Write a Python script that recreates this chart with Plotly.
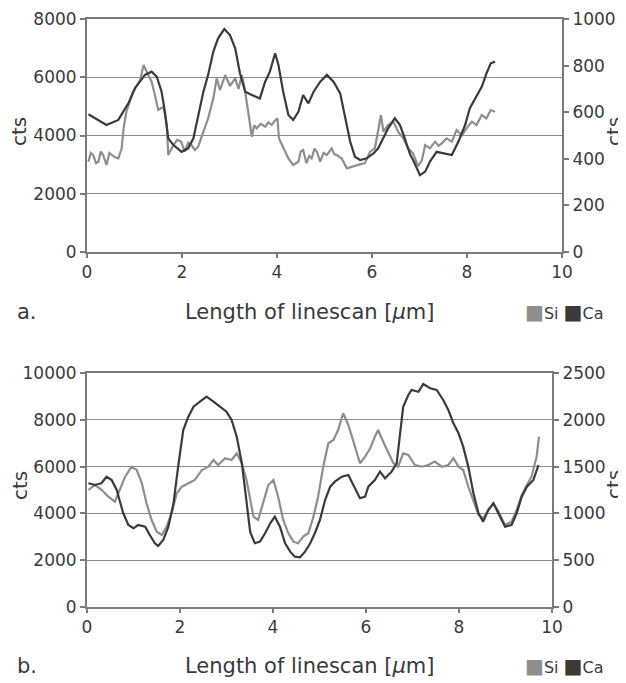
import plotly.graph_objects as go

# ---------------- data: chart a ----------------
a_si_x = [0.03, 0.08, 0.13, 0.19, 0.24, 0.29, 0.34, 0.38, 0.41, 0.47, 0.52, 0.59, 0.66, 0.73, 0.77, 0.83,
          0.97, 1.12, 1.19, 1.26, 1.36, 1.43, 1.50, 1.61, 1.68, 1.71, 1.82, 1.90, 1.98, 2.06, 2.13, 2.20,
          2.27, 2.34, 2.45, 2.55, 2.66, 2.73, 2.80, 2.91, 3.01, 3.12, 3.19, 3.26, 3.33, 3.40, 3.47, 3.52,
          3.57, 3.66, 3.75, 3.82, 3.89, 3.95, 4.01, 4.04, 4.13, 4.24, 4.34, 4.45, 4.50, 4.55, 4.62, 4.68,
          4.73, 4.79, 4.84, 4.91, 4.98, 5.05, 5.15, 5.21, 5.26, 5.36, 5.47, 5.57, 5.71, 5.85, 5.96, 6.06,
          6.13, 6.19, 6.24, 6.34, 6.45, 6.55, 6.66, 6.76, 6.86, 6.97, 7.05, 7.12, 7.22, 7.33, 7.40, 7.47,
          7.57, 7.68, 7.78, 7.89, 7.99, 8.10, 8.20, 8.31, 8.41, 8.50, 8.59]
a_si_y = [3100, 3400, 3330, 3050, 3100, 3450, 3330, 3150, 2990, 3400, 3330, 3250, 3215, 3560, 4246, 4817,
          5503, 5905, 6420, 6190, 5847, 5390, 4875, 4988, 4360, 3330, 3673, 3850, 3788, 3443, 3750, 3673,
          3500, 3615, 4130, 4589, 5275, 5962, 5560, 6077, 5700, 5962, 5600, 6077, 5503, 4703, 3958, 4350,
          4246, 4400, 4300, 4450, 4360, 4500, 4589, 3903, 3615, 3215, 2990, 3100, 3450, 3502, 3050, 3300,
          3215, 3550, 3443, 3100, 3400, 3330, 3560, 3350, 3330, 3215, 2873, 2930, 2990, 3050, 3443, 3560,
          4246, 4703, 4130, 4360, 4473, 4130, 3903, 3550, 3400, 2950, 3150, 3673, 3560, 3788, 3650, 3730,
          3903, 3788, 4190, 4000, 4246, 4473, 4360, 4703, 4589, 4875, 4817]

a_ca_x = [0.03, 0.31, 0.41, 0.66, 0.87, 1.01, 1.22, 1.36, 1.47, 1.57, 1.64, 1.71, 1.82, 1.99, 2.13, 2.24,
          2.34, 2.45, 2.55, 2.66, 2.76, 2.89, 3.01, 3.12, 3.22, 3.33, 3.47, 3.64, 3.75, 3.85, 3.96, 4.03,
          4.13, 4.24, 4.34, 4.45, 4.55, 4.66, 4.77, 4.91, 5.05, 5.19, 5.33, 5.43, 5.54, 5.64, 5.75, 5.89,
          6.03, 6.13, 6.24, 6.34, 6.48, 6.59, 6.69, 6.80, 6.88, 7.01, 7.12, 7.22, 7.36, 7.50, 7.68, 7.82,
          7.96, 8.06, 8.17, 8.31, 8.41, 8.50, 8.59]
a_ca_y = [591, 559, 545, 567, 638, 703, 760, 774, 752, 688, 602, 488, 459, 430, 445, 488,
          588, 688, 760, 860, 917, 957, 931, 874, 767, 688, 674, 659, 731, 774, 853, 803,
          688, 588, 567, 602, 674, 638, 688, 731, 760, 731, 681, 588, 474, 409, 395, 402,
          423, 445, 488, 531, 574, 545, 488, 420, 388, 330, 345, 388, 430, 423, 416, 474,
          545, 617, 659, 709, 767, 810, 817]

# ---------------- data: chart b ----------------
b_si_x = [0.03, 0.17, 0.32, 0.46, 0.60, 0.71, 0.82, 0.96, 1.07, 1.18, 1.28, 1.39, 1.50, 1.61, 1.71, 1.82,
          1.93, 2.04, 2.18, 2.32, 2.47, 2.61, 2.72, 2.82, 2.97, 3.11, 3.22, 3.33, 3.43, 3.51, 3.58, 3.68,
          3.79, 3.90, 4.01, 4.11, 4.22, 4.33, 4.44, 4.54, 4.65, 4.76, 4.87, 4.97, 5.08, 5.19, 5.30, 5.40,
          5.51, 5.62, 5.73, 5.87, 5.98, 6.09, 6.19, 6.26, 6.37, 6.48, 6.59, 6.69, 6.80, 6.91, 7.05, 7.20,
          7.34, 7.48, 7.63, 7.77, 7.88, 7.99, 8.09, 8.20, 8.31, 8.42, 8.52, 8.63, 8.74, 8.85, 8.99, 9.13,
          9.24, 9.35, 9.46, 9.56, 9.67, 9.72]
b_si_y = [5000, 5214, 5000, 4714, 4500, 5000, 5569, 5996, 5855, 5287, 4432, 3718, 3218, 3077, 3432, 4005,
          4860, 5142, 5287, 5428, 5855, 5996, 6284, 6069, 6355, 6284, 6569, 6142, 5428, 4573, 3860, 3718,
          4432, 5214, 5428, 4714, 3718, 3150, 2791, 2722, 3005, 3150, 3860, 4714, 5996, 6996, 7140, 7565,
          8279, 7779, 7065, 6142, 6426, 6783, 7279, 7565, 7065, 6569, 6142, 5996, 6569, 6497, 6069, 5996,
          6069, 6212, 5996, 6069, 6355, 5996, 5855, 5142, 4573, 3930, 3790, 4146, 4432, 4075, 3505, 3646,
          4146, 4786, 5214, 5569, 6426, 7279]

b_ca_x = [0.03, 0.17, 0.31, 0.42, 0.53, 0.64, 0.71, 0.78, 0.89, 1.00, 1.10, 1.25, 1.35, 1.46, 1.53, 1.64,
          1.75, 1.86, 1.96, 2.07, 2.18, 2.29, 2.43, 2.57, 2.72, 2.86, 3.00, 3.11, 3.22, 3.33, 3.43, 3.51,
          3.61, 3.72, 3.83, 3.94, 4.04, 4.15, 4.26, 4.37, 4.47, 4.58, 4.69, 4.80, 4.90, 5.01, 5.12, 5.23,
          5.33, 5.48, 5.62, 5.73, 5.87, 5.98, 6.05, 6.19, 6.30, 6.41, 6.55, 6.66, 6.73, 6.80, 6.91, 6.98,
          7.13, 7.23, 7.38, 7.52, 7.66, 7.77, 7.88, 7.99, 8.09, 8.20, 8.31, 8.42, 8.52, 8.63, 8.74, 8.85,
          8.99, 9.13, 9.24, 9.35, 9.46, 9.60, 9.71]
b_ca_y = [1322, 1304, 1322, 1392, 1357, 1250, 1125, 1001, 876, 841, 876, 858, 769, 681, 652, 716,
          858, 1108, 1499, 1891, 2033, 2140, 2194, 2247, 2194, 2140, 2087, 1998, 1820, 1536, 1143, 800,
          681, 698, 788, 894, 965, 858, 681, 591, 538, 531, 591, 681, 788, 930, 1143, 1286,
          1339, 1392, 1411, 1304, 1162, 1179, 1286, 1357, 1446, 1375, 1446, 1536, 1820, 2140, 2265, 2319,
          2300, 2383, 2337, 2319, 2212, 2105, 1963, 1856, 1713, 1499, 1215, 1001, 912, 1037, 1108, 1001,
          858, 876, 1001, 1179, 1286, 1357, 1517]

# ---------------- styles ----------------
OFF = 8  # default body margin of the page
W, H = 626 - OFF, 683 - OFF
SI_COLOR = "#8e8e8e"
CA_COLOR = "#3a3a3a"
TXT = "#3a3a3a"
AXC = "#7a7a7a"
GRID = "#8a8a8a"
FONT = "DejaVu Sans"
LW = 2.2


def px(x):
    return (x - OFF) / W


def py(y):
    return 1 - (y - OFF) / H


fig = go.Figure()
fig.add_trace(go.Scatter(x=a_si_x, y=a_si_y, mode="lines", line=dict(color=SI_COLOR, width=LW),
                         xaxis="x", yaxis="y", name="Si", showlegend=False))
fig.add_trace(go.Scatter(x=a_ca_x, y=a_ca_y, mode="lines", line=dict(color=CA_COLOR, width=LW),
                         xaxis="x", yaxis="y2", name="Ca", showlegend=False))
fig.add_trace(go.Scatter(x=b_si_x, y=b_si_y, mode="lines", line=dict(color=SI_COLOR, width=LW),
                         xaxis="x2", yaxis="y3", name="Si", showlegend=False))
fig.add_trace(go.Scatter(x=b_ca_x, y=b_ca_y, mode="lines", line=dict(color=CA_COLOR, width=LW),
                         xaxis="x2", yaxis="y4", name="Ca", showlegend=False))

tickfont = dict(family=FONT, size=17, color=TXT)
common_x = dict(range=[0, 10], dtick=2, tick0=0, showgrid=False, zeroline=False, showline=True,
                linecolor=AXC, linewidth=2, mirror=True, ticks="outside", ticklen=4, tickwidth=1.5,
                tickcolor=AXC, tickfont=tickfont, automargin=False, tickformat="d")
common_y = dict(showgrid=True, gridcolor=GRID, gridwidth=1.3, zeroline=False, showline=True,
                linecolor=AXC, linewidth=2, ticks="outside", ticklen=5, tickwidth=1.5,
                tickcolor=AXC, tickfont=tickfont, automargin=False, tickformat="d")

fig.update_layout(
    width=W, height=H,
    margin=dict(l=0, r=0, t=0, b=0, autoexpand=False),
    paper_bgcolor="white", plot_bgcolor="white",
    showlegend=False,
    xaxis=dict(domain=[px(87), px(562)], anchor="y", **common_x),
    yaxis=dict(domain=[py(252), py(19)], anchor="x", range=[0, 8000], dtick=2000, **common_y),
    yaxis2=dict(overlaying="y", side="right", anchor="x", range=[0, 1000], dtick=200,
                **{**common_y, "showgrid": False}),
    xaxis2=dict(domain=[px(87), px(552)], anchor="y3", **common_x),
    yaxis3=dict(domain=[py(607), py(373)], anchor="x2", range=[0, 10000], dtick=2000, **common_y),
    yaxis4=dict(overlaying="y3", side="right", anchor="x2", range=[0, 2500], dtick=500,
                **{**common_y, "showgrid": False}),
)

ann = []
titlefont = dict(family=FONT, size=21, color=TXT)
legend_text = (f"<span style='color:{SI_COLOR};font-size:20px'>■</span>Si "
               f"<span style='color:{CA_COLOR};font-size:20px'>■</span>Ca")
for ytit, lab in [(312, "a."), (666, "b.")]:
    ann.append(dict(x=px(310), y=py(ytit), xref="paper", yref="paper", showarrow=False,
                    text="Length of linescan [<i>µ</i>m]", font=titlefont, xanchor="center", yanchor="middle"))
    ann.append(dict(x=px(15), y=py(ytit), xref="paper", yref="paper", showarrow=False,
                    text=lab, font=titlefont, xanchor="left", yanchor="middle"))
    ann.append(dict(x=px(523), y=py(ytit), xref="paper", yref="paper", showarrow=False,
                    text=legend_text,
                    font=dict(family=FONT, size=16, color=TXT), xanchor="left", yanchor="middle"))
for xc, yc in [(19, 132), (614, 132), (20, 485), (614, 485)]:
    ann.append(dict(x=px(xc), y=py(yc), xref="paper", yref="paper", showarrow=False, text="cts",
                    textangle=-90, font=dict(family=FONT, size=20, color=TXT),
                    xanchor="center", yanchor="middle"))
fig.update_layout(annotations=ann)

fig.write_html("out.html")
